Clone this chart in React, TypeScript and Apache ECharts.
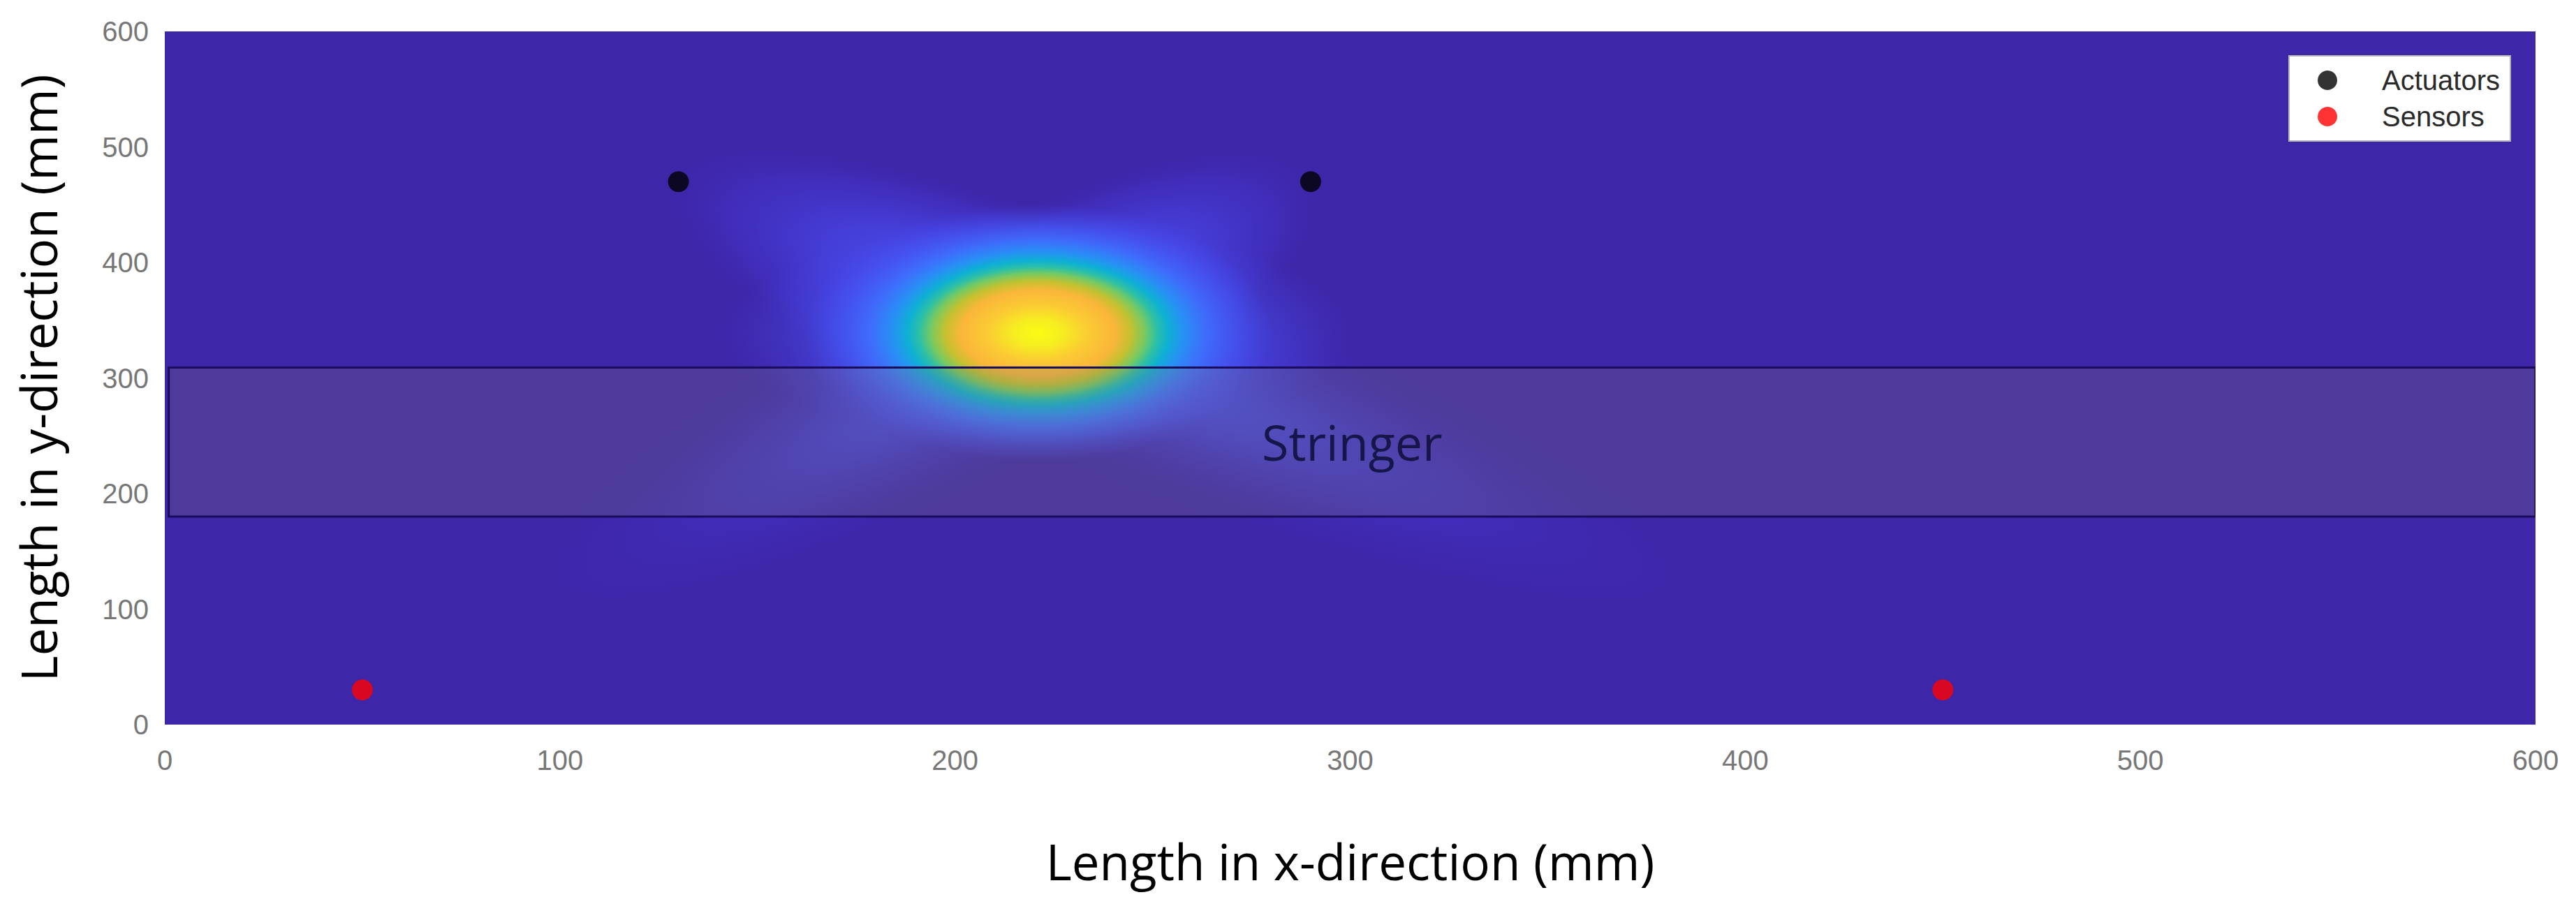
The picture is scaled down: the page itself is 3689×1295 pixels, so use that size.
import React, { useEffect, useRef } from "react";
import * as echarts from "echarts";

// ---- data ----
const xRange = [0, 600];
const yRange = [0, 600];
const tickStep = 100;

const actuators: number[][] = [
  [130, 470],
  [290, 470],
];
const sensors: number[][] = [
  [50, 30],
  [450, 30],
];
// actuator x, actuator y, sensor x, sensor y, crossing x, crossing y
const wavePaths: number[][] = [
  [130, 470, 450, 30, 221, 339],
  [290, 470, 50, 30, 221, 339],
];
// centre x, centre y, half width (mm), half height (mm)
const damageSpot: number[][] = [[221, 339, 59, 112]];
// x0, y0, x1, y1 (mm)
const stringerBand: number[][] = [[1, 180, 600, 309]];
const stringerLabel = "Stringer";

// ---- styles ----
const BG = "#3e26a8";
const ARM_HALF_WIDTH = 170; // px, perpendicular
const hotStops = [
  { offset: 0, color: "rgb(249,251,20)" },
  { offset: 0.1, color: "rgb(246,238,32)" },
  { offset: 0.22, color: "rgb(251,202,52)" },
  { offset: 0.33, color: "rgb(250,182,58)" },
  { offset: 0.4, color: "rgb(196,193,48)" },
  { offset: 0.46, color: "rgb(118,202,98)" },
  { offset: 0.51, color: "rgb(44,192,166)" },
  { offset: 0.56, color: "rgb(14,176,212)" },
  { offset: 0.63, color: "rgb(40,143,245)" },
  { offset: 0.72, color: "rgba(62,110,252,0.95)" },
  { offset: 0.82, color: "rgba(68,90,246,0.7)" },
  { offset: 0.92, color: "rgba(70,78,240,0.32)" },
  { offset: 1, color: "rgba(70,72,236,0)" },
];
const haloStops = [
  { offset: 0, color: "rgba(64,104,251,0.9)" },
  { offset: 0.5, color: "rgba(66,100,250,0.75)" },
  { offset: 0.75, color: "rgba(70,80,242,0.4)" },
  { offset: 1, color: "rgba(70,72,236,0)" },
];
const upperArmStops = [
  { offset: 0, color: "rgba(70,95,248,1)" },
  { offset: 0.3, color: "rgba(72,86,244,0.9)" },
  { offset: 0.55, color: "rgba(72,72,236,0.7)" },
  { offset: 0.8, color: "rgba(68,56,214,0.4)" },
  { offset: 1, color: "rgba(62,38,168,0)" },
];
const lowerArmStops = [
  { offset: 0, color: "rgba(70,95,248,0.95)" },
  { offset: 0.3, color: "rgba(72,78,240,0.7)" },
  { offset: 0.6, color: "rgba(68,56,215,0.38)" },
  { offset: 1, color: "rgba(62,38,168,0)" },
];

export default function App() {
  const ref = useRef<HTMLDivElement>(null);

  useEffect(() => {
    if (!ref.current) return;
    const chart = echarts.init(ref.current, null, { renderer: "svg" });

    const armRender = (_params: any, api: any) => {
      const A = api.coord([api.value(0), api.value(1)]);
      const S = api.coord([api.value(2), api.value(3)]);
      const C = api.coord([api.value(4), api.value(5)]);
      const mk = (P: number[], reach: number, stops: any[]) => {
        const dx = P[0] - C[0];
        const dy = P[1] - C[1];
        const len = Math.hypot(dx, dy) * reach;
        const ang = Math.atan2(dy, dx);
        return {
          type: "sector",
          x: C[0],
          y: C[1],
          rotation: -ang,
          scaleX: len / 100,
          scaleY: ARM_HALF_WIDTH / 100,
          shape: { cx: 0, cy: 0, r: 100, r0: 0, startAngle: -Math.PI / 2, endAngle: Math.PI / 2, clockwise: true },
          style: {
            fill: { type: "radial", x: 0, y: 0, r: 100, global: true, colorStops: stops },
          },
        };
      };
      return {
        type: "group",
        children: [mk(A, 1.06, upperArmStops), mk(S, 0.8, lowerArmStops)],
      };
    };

    const spotRender = (_params: any, api: any) => {
      const c = api.coord([api.value(0), api.value(1)]);
      const s = api.size([api.value(2), api.value(3)]);
      return {
        type: "group",
        children: [
          {
            type: "ellipse",
            shape: { cx: c[0], cy: c[1], rx: s[0] * 1.35, ry: s[1] * 0.85 },
            style: {
              fill: { type: "radial", x: 0.5, y: 0.5, r: 0.5, colorStops: haloStops },
            },
          },
          {
            type: "ellipse",
            shape: { cx: c[0], cy: c[1], rx: s[0], ry: s[1] },
            style: {
              fill: { type: "radial", x: 0.5, y: 0.5, r: 0.5, colorStops: hotStops },
            },
          },
        ],
      };
    };

    const stringerRender = (_params: any, api: any) => {
      const p0 = api.coord([api.value(0), api.value(3)]);
      const p1 = api.coord([api.value(2), api.value(1)]);
      return {
        type: "group",
        children: [
          {
            type: "rect",
            shape: { x: p0[0], y: p0[1], width: p1[0] - p0[0], height: p1[1] - p0[1] },
            style: { fill: "rgba(125,118,110,0.25)", stroke: "#1a0c5c", lineWidth: 3 },
          },
          {
            type: "text",
            style: {
              text: stringerLabel,
              x: (p0[0] + p1[0]) / 2,
              y: (p0[1] + p1[1]) / 2,
              align: "center",
              verticalAlign: "middle",
              fontSize: 70,
              fontFamily: "Open Sans",
              fill: "#16164a",
            },
          },
        ],
      };
    };

    chart.setOption({
      animation: false,
      backgroundColor: "#ffffff",
      grid: {
        left: 236,
        top: 45,
        width: 3395,
        height: 993,
        show: true,
        backgroundColor: BG,
        borderWidth: 0,
      },
      legend: {
        data: ["Actuators", "Sensors"],
        orient: "vertical",
        right: 94,
        top: 80,
        backgroundColor: "#ffffff",
        borderColor: "#b4b4b4",
        borderWidth: 2,
        padding: [15, 15, 15, 41],
        itemWidth: 28,
        itemHeight: 28,
        itemGap: 12,
        icon: "circle",
        textStyle: {
          fontSize: 40,
          lineHeight: 40,
          fontFamily: "Liberation Sans, Arial, sans-serif",
          color: "#2a2a2a",
          padding: [0, 0, 0, 59],
        },
      },
      xAxis: {
        type: "value",
        min: xRange[0],
        max: xRange[1],
        interval: tickStep,
        name: "Length in x-direction (mm)",
        nameLocation: "middle",
        nameGap: 160,
        nameTextStyle: { fontSize: 71, fontFamily: "Open Sans", color: "#000000" },
        axisLine: { show: false },
        axisTick: { show: false },
        splitLine: { show: false },
        axisLabel: {
          fontSize: 40,
          fontFamily: "Liberation Sans, Arial, sans-serif",
          color: "#777777",
          margin: 31,
        },
      },
      yAxis: {
        type: "value",
        min: yRange[0],
        max: yRange[1],
        interval: tickStep,
        name: "Length in y-direction (mm)",
        nameLocation: "middle",
        nameGap: 146,
        nameTextStyle: { fontSize: 71, fontFamily: "Open Sans", color: "#000000" },
        axisLine: { show: false },
        axisTick: { show: false },
        splitLine: { show: false },
        axisLabel: {
          fontSize: 40,
          fontFamily: "Liberation Sans, Arial, sans-serif",
          color: "#777777",
          margin: 23,
        },
      },
      series: [
        {
          type: "custom",
          name: "paths",
          clip: true,
          silent: true,
          z: 1,
          encode: { x: [0, 2, 4], y: [1, 3, 5] },
          data: wavePaths,
          renderItem: armRender,
        },
        {
          type: "custom",
          name: "damage",
          clip: true,
          silent: true,
          z: 2,
          encode: { x: 0, y: 1 },
          data: damageSpot,
          renderItem: spotRender,
        },
        {
          type: "custom",
          name: "stringer",
          clip: true,
          silent: true,
          z: 3,
          encode: { x: [0, 2], y: [1, 3] },
          data: stringerBand,
          renderItem: stringerRender,
        },
        {
          type: "scatter",
          name: "Actuators",
          z: 5,
          symbolSize: 30,
          itemStyle: { color: "#000000" },
          data: actuators,
        },
        {
          type: "scatter",
          name: "Sensors",
          z: 5,
          symbolSize: 30,
          itemStyle: { color: "#ff0000" },
          data: sensors,
        },
      ],
    });

    return () => chart.dispose();
  }, []);

  return (
    <div
      ref={ref}
      style={{ position: "absolute", left: 0, top: 0, width: 3689, height: 1295 }}
    />
  );
}
